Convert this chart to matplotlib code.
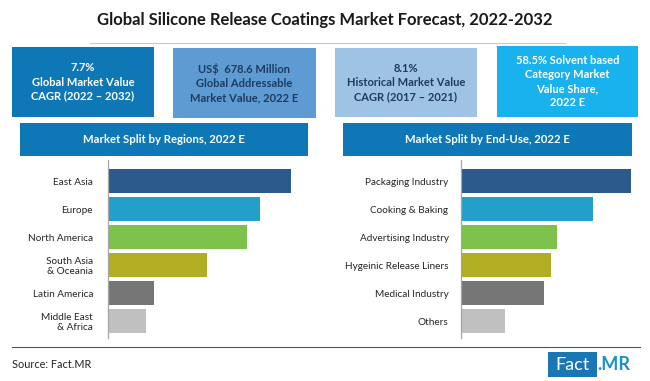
import matplotlib
matplotlib.use("Agg")
import matplotlib.pyplot as plt
from matplotlib.patches import Rectangle

plt.rcParams['font.family'] = ['Lato', 'DejaVu Sans']

W, H = 650, 381

title = "Global Silicone Release Coatings Market Forecast, 2022-2032"

region_labels = ["East Asia", "Europe", "North America", "South Asia\n& Oceania",
                 "Latin America", "Middle East\n& Africa"]
region_values = [183, 152, 139, 99, 46, 38]

enduse_labels = ["Packaging Industry", "Cooking & Baking", "Advertising Industry",
                 "Hygeinic Release Liners", "Medical Industry", "Others"]
enduse_values = [170, 132, 96, 90, 83, 44]

bar_colors = ["#2a5b8b", "#22a0c8", "#7cc24c", "#b0ae22", "#767676", "#c0c0c0"]

kpi_texts = ["7.7%\nGlobal Market Value\nCAGR (2022 – 2032)",
             "US$  678.6 Million\nGlobal Addressable\nMarket Value, 2022 E",
             "8.1%\nHistorical Market Value\nCAGR (2017 – 2021)",
             "58.5% Solvent based\nCategory Market\nValue Share,\n2022 E"]
kpi_colors = ["#0e77b6", "#5e9bd3", "#9fc3e5", "#1ab2ee"]
kpi_text_colors = ["white", "#1f3a5f", "#1f3a5f", "white"]

headers = ["Market Split by Regions, 2022 E", "Market Split by End-Use, 2022 E"]
source = "Source: Fact.MR"

fig = plt.figure(figsize=(W / 100, H / 100), dpi=100)
fig.patch.set_facecolor("white")

# overlay axes in pixel coordinates
ov = fig.add_axes([0, 0, 1, 1])
ov.set_xlim(0, W)
ov.set_ylim(H, 0)
ov.axis("off")

ov.text(325, 20, title, ha="center", va="center", fontsize=12,
        fontweight="bold", color="#1a1a1a")
ov.plot([90, 565], [42.5, 42.5], color="#c8c8c8", lw=0.8)

boxes = [(12, 47, 142, 70), (173, 48, 143, 70), (335, 48, 142, 69), (497, 46, 141, 71)]
for (x, y, w, h), c, t, tc in zip(boxes, kpi_colors, kpi_texts, kpi_text_colors):
    ov.add_patch(Rectangle((x, y), w, h, facecolor=c, edgecolor="none"))
    ov.text(x + w / 2, y + h / 2, t, ha="center", va="center", fontsize=8,
            fontweight="bold", color=tc, linespacing=1.35)

hdrs = [(20, 123, 288, 33), (343, 123, 289, 33)]
for (x, y, w, h), t in zip(hdrs, headers):
    ov.add_patch(Rectangle((x, y), w, h, facecolor="#0e77b6", edgecolor="none"))
    ov.text(x + w / 2, y + h / 2, t, ha="center", va="center", fontsize=8.2,
            fontweight="bold", color="white")

# bottom line and source
ov.plot([12, 640], [347, 347], color="#555555", lw=0.8)
ov.text(12, 365, source, ha="left", va="center", fontsize=7.8, color="#222222")

# logo
ov.add_patch(Rectangle((548, 352), 49, 25, facecolor="#1a77b3", edgecolor="none"))
ov.text(572.5, 365, "Fact", ha="center", va="center", fontsize=13, color="white")
ov.text(597, 365, ".MR", ha="left", va="center", fontsize=13, fontweight="bold",
        color="#1a8fd0")


def bar_axes(x0, width_px, xmax, labels, values, pad):
    top, bottom = 160, 338
    ax = fig.add_axes([x0 / W, 1 - bottom / H, width_px / W, (bottom - top) / H])
    ypos = list(range(len(values)))
    ax.barh(ypos, values, height=0.86, color=bar_colors)
    ax.set_xlim(0, xmax)
    ax.set_ylim(5.6, -0.76)
    ax.set_yticks(ypos)
    ax.set_yticklabels(labels, fontsize=7.2, color="#262626", linespacing=1.15)
    ax.tick_params(axis="y", length=0, pad=pad)
    ax.set_xticks([])
    for s in ["top", "right", "bottom"]:
        ax.spines[s].set_visible(False)
    ax.spines["left"].set_color("#a6a6a6")
    ax.spines["left"].set_linewidth(0.9)
    ax.patch.set_alpha(0)
    return ax


bar_axes(108.3, 200, 200, region_labels, region_values, 11)
bar_axes(461, 180, 180, enduse_labels, enduse_values, 9)

fig.savefig("out.png", dpi=100, facecolor="white")
